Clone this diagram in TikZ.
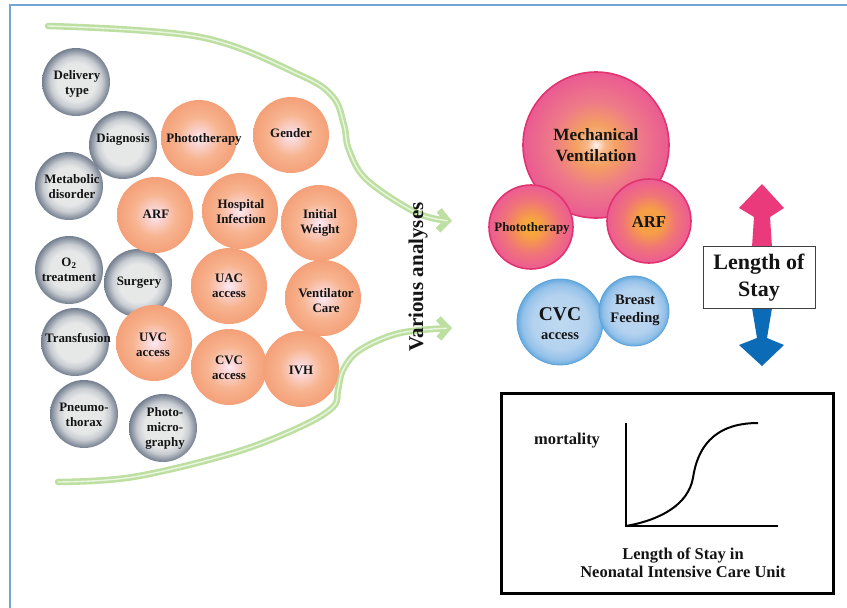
\documentclass[tikz,border=0pt]{standalone}
\usepackage{fontspec}
\setmainfont{Liberation Serif}
\usetikzlibrary{arrows.meta}
\definecolor{frameblue}{HTML}{74A6D4}
\definecolor{txt}{HTML}{141414}
\definecolor{gIn}{HTML}{E6E8E8}
\definecolor{gMid}{HTML}{C9CDD2}
\definecolor{gOut}{HTML}{737E8F}
\definecolor{oIn}{HTML}{FCEAF5}
\definecolor{oA}{HTML}{FAD3CF}
\definecolor{oB}{HTML}{F7B490}
\definecolor{oOut}{HTML}{F4A078}
\definecolor{mIn}{HTML}{FFF3F0}
\definecolor{mA}{HTML}{F8B98A}
\definecolor{mB}{HTML}{F4A062}
\definecolor{mC}{HTML}{EE7A88}
\definecolor{mOut}{HTML}{EA5A92}
\definecolor{pIn}{HTML}{F9B12E}
\definecolor{pA}{HTML}{F6A044}
\definecolor{pB}{HTML}{F07478}
\definecolor{pOut}{HTML}{EC5C93}
\definecolor{aIn}{HTML}{F49A50}
\definecolor{pinkrim}{HTML}{E2336F}
\definecolor{bIn}{HTML}{BFD9F1}
\definecolor{bA}{HTML}{B4D2EF}
\definecolor{bB}{HTML}{94C1E9}
\definecolor{bOut}{HTML}{66AADE}
\definecolor{bluerim}{HTML}{5AA2DA}
\definecolor{garrow}{HTML}{BEDFA2}
\definecolor{garrowin}{HTML}{EAF5E0}
\definecolor{uppink}{HTML}{EA3A7B}
\definecolor{downblue}{HTML}{0B6BB6}
\pgfdeclareradialshading{greyball}{\pgfpoint{0bp}{0bp}}{color(0bp)=(gIn); color(14bp)=(gIn); color(19bp)=(gMid); color(25bp)=(gOut); color(50bp)=(gOut)}
\pgfdeclareradialshading{orangeball}{\pgfpoint{0bp}{0bp}}{color(0bp)=(oIn); color(5bp)=(oA); color(14bp)=(oB); color(25bp)=(oOut); color(50bp)=(oOut)}
\pgfdeclareradialshading{mvball}{\pgfpoint{0bp}{0bp}}{color(0bp)=(mIn); color(3bp)=(mA); color(7bp)=(mB); color(15bp)=(mC); color(25bp)=(mOut); color(50bp)=(mOut)}
\pgfdeclareradialshading{pinkball}{\pgfpoint{0bp}{0bp}}{color(0bp)=(pIn); color(6bp)=(pA); color(16bp)=(pB); color(25bp)=(pOut); color(50bp)=(pOut)}
\pgfdeclareradialshading{arfball}{\pgfpoint{0bp}{0bp}}{color(0bp)=(aIn); color(7bp)=(pA); color(16bp)=(pB); color(25bp)=(pOut); color(50bp)=(pOut)}
\pgfdeclareradialshading{blueball}{\pgfpoint{0bp}{0bp}}{color(0bp)=(bIn); color(16bp)=(bA); color(22bp)=(bB); color(25bp)=(bOut); color(50bp)=(bOut)}
\begin{document}
\begin{tikzpicture}[x=1pt,y=-1pt,
  ball/.style={circle, inner sep=0pt, minimum size=#1},
  gball/.style={ball=68pt, shading=greyball},
  oball/.style={ball=76pt, shading=orangeball},
  lbl/.style={align=center, text=txt, inner sep=0pt, font=\fontsize{12.9}{15}\selectfont\bfseries},
  bigl/.style={align=center, text=txt, inner sep=0pt},
  gline/.style={line width=6.5pt, draw=garrow, line cap=round, line join=round},
  glinein/.style={line width=1.4pt, draw=garrowin, line cap=round}
]
\useasboundingbox (0,0) rectangle (847,608);
% frame
\draw[frameblue, line width=1.6pt] (10,608) -- (10,5) -- (847,5);

% green arrows
\draw[gline, -{Straight Barb[length=9pt,width=20pt]}] plot[smooth, tension=0.6] coordinates
  {(48,26) (200,37) (300,75) (333,97) (344,125) (349,150) (367,180) (417,213) (452,221)};
\draw[glinein, shorten >=5pt] plot[smooth, tension=0.6] coordinates
  {(48,26) (200,37) (300,75) (333,97) (344,125) (349,150) (367,180) (417,213) (452,221)};
\draw[gline, -{Straight Barb[length=9pt,width=20pt]}] plot[smooth, tension=0.6] coordinates
  {(58,482) (133,477) (233,453) (300,427) (333,407) (338,390) (343,370) (360,350) (400,333) (452,328)};
\draw[glinein, shorten >=5pt] plot[smooth, tension=0.6] coordinates
  {(58,482) (133,477) (233,453) (300,427) (333,407) (338,390) (343,370) (360,350) (400,333) (452,328)};

% grey balls
\node[gball] (deliv) at (76,82) {};
\node[lbl] (delivT) at (77,84) {Delivery\\type};
\node[gball] (diag) at (123,145) {};
\node[lbl] (diagT) at (123,139) {Diagnosis};
\node[gball] (metab) at (69,186) {};
\node[lbl] (metabT) at (72,187) {Metabolic\\disorder};
\node[gball] (otwo) at (69,270) {};
\node[lbl] (otwoT) at (69,270) {O\textsubscript{2}\\treatment};
\node[gball] (surg) at (138,283) {};
\node[lbl] (surgT) at (139,283) {Surgery};
\node[gball] (transf) at (75,342) {};
\node[lbl] (transfT) at (78,338) {Transfusion};
\node[gball] (pneumo) at (84,414) {};
\node[lbl] (pneumoT) at (84,415) {Pneumo-\\thorax};
\node[gball] (photom) at (163,428) {};
\node[lbl] (photomT) at (165,428) {Photo-\\micro-\\graphy};

% orange balls
\node[oball] (photo) at (199,138) {};
\node[lbl] (photoT) at (204,139) {Phototherapy};
\node[oball] (gender) at (291,135) {};
\node[lbl] (genderT) at (291,133) {Gender};
\node[oball] (arf) at (155,215) {};
\node[lbl] (arfT) at (156,214) {ARF};
\node[oball] (hosp) at (240,211) {};
\node[lbl] (hospT) at (241,212) {Hospital\\Infection};
\node[oball] (initw) at (319,223) {};
\node[lbl] (initwT) at (320,223) {Initial\\Weight};
\node[oball] (uac) at (229,286) {};
\node[lbl] (uacT) at (229,286) {UAC\\access};
\node[oball] (vent) at (323,298) {};
\node[lbl] (ventT) at (326,301) {Ventilator\\Care};
\node[oball] (cvc) at (229,367) {};
\node[lbl] (cvcT) at (229,368) {CVC\\access};
\node[oball] (ivh) at (301,369) {};
\node[lbl] (ivhT) at (301,370) {IVH};
\node[oball] (uvc) at (154,343) {};
\node[lbl] (uvcT) at (153,345) {UVC\\access};

% various analyses
\node[bigl, rotate=90, font=\fontsize{21}{24}\selectfont\bfseries] (va) at (418,277) {Various analyses};

% right side balls
\node[ball=146pt, shading=mvball, draw=pinkrim, line width=1.6pt] (mv) at (596,145) {};
\node[bigl, font=\fontsize{17.2}{21}\selectfont\bfseries] (mvT) at (596,145.5) {Mechanical\\Ventilation};
\node[ball=84pt, shading=pinkball, draw=pinkrim, line width=1.6pt] (ptp) at (531,227) {};
\node[lbl] (ptpT) at (532,228) {Phototherapy};
\node[ball=84pt, shading=arfball, draw=pinkrim, line width=1.6pt] (arfp) at (649,221) {};
\node[bigl, font=\fontsize{16.7}{20}\selectfont\bfseries] (arfpT) at (649,222) {ARF};
\node[ball=86pt, shading=blueball, draw=bluerim, line width=0.8pt] (cvcb) at (560,322) {};
\node[bigl, font=\fontsize{19.5}{22}\selectfont\bfseries] (cvcbT1) at (560,314) {CVC};
\node[bigl, font=\fontsize{14.5}{17}\selectfont\bfseries] (cvcbT2) at (560,336) {access};
\node[ball=70pt, shading=blueball, draw=bluerim, line width=0.8pt] (bf) at (634,311) {};
\node[bigl, font=\fontsize{14.5}{18}\selectfont\bfseries] (bfT) at (635,310) {Breast\\Feeding};

% length of stay arrows and box
\fill[uppink] (762,184) -- (784,208) -- (770,217) -- (772,247) -- (752,247) -- (754,217) -- (739,208) -- cycle;
\fill[downblue] (752,308) -- (772,308) -- (767,338) -- (784,345) -- (762,366) -- (739,345) -- (757,338) -- cycle;
\node[draw=black!75, line width=1pt, fill=white, minimum width=112pt, minimum height=62pt, inner sep=0pt,
  align=center, text=txt, font=\fontsize{22}{27}\selectfont\bfseries] (los) at (759,277.5) {Length of\\Stay};

% mortality graph
\node[draw=black, line width=3pt, minimum width=332pt, minimum height=200pt, inner sep=0pt] (gbox) at (667,493) {};
\coordinate (orig) at (626,526);
\coordinate (ytop) at (626,423);
\coordinate (xend) at (778,526);
\draw[line width=2pt] (ytop) -- (orig) -- (xend);
\draw[line width=2pt] (orig) .. controls (660,520) and (688,505) .. (693,478) .. controls (697,450) and (712,423) .. (758,423);
\node[bigl, font=\fontsize{16.5}{18}\selectfont\bfseries] (mort) at (567,441) {mortality};
\node[bigl, font=\fontsize{16.5}{17.5}\selectfont\bfseries] (xlab) at (683,563) {Length of Stay in\\Neonatal Intensive Care Unit};
\end{tikzpicture}
\end{document}
